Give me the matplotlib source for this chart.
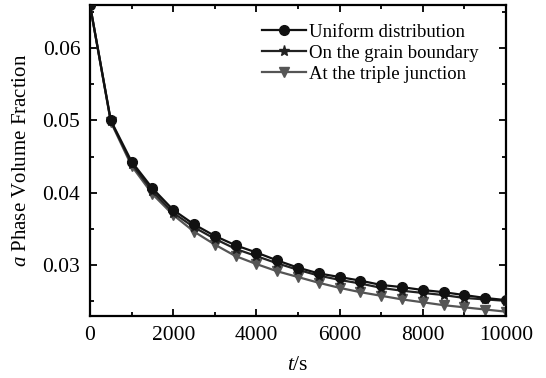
import numpy as np
import matplotlib.pyplot as plt

plt.rcParams['font.family'] = ['Liberation Serif', 'DejaVu Serif']
plt.rcParams['mathtext.fontset'] = 'custom'
plt.rcParams['mathtext.it'] = 'Liberation Serif:italic'
plt.rcParams['mathtext.rm'] = 'Liberation Serif'

t = np.arange(0, 10001, 500)

uniform = [0.066, 0.0500, 0.0443, 0.0406, 0.0376, 0.0356, 0.0340, 0.0327, 0.0317, 0.0306,
           0.0296, 0.0288, 0.0283, 0.0278, 0.0272, 0.0269, 0.0265, 0.0262, 0.0258, 0.0254, 0.0251]
boundary = [0.066, 0.0499, 0.0440, 0.0402, 0.0372, 0.0352, 0.0336, 0.0322, 0.0312, 0.0302,
            0.0293, 0.0285, 0.0279, 0.0274, 0.0268, 0.0264, 0.0261, 0.0258, 0.0254, 0.0252, 0.0250]
triple = [0.066, 0.0498, 0.0437, 0.0398, 0.0369, 0.0346, 0.0328, 0.0312, 0.0301, 0.0291,
          0.0283, 0.0275, 0.0268, 0.0262, 0.0257, 0.0252, 0.0248, 0.0244, 0.0241, 0.0238, 0.0235]

fig = plt.figure(figsize=(5.46, 3.78), dpi=100)
ax = fig.add_axes([90/546, 1 - 316/378, 416/546, 311/378])

ax.plot(t, uniform, '-o', color='#111111', lw=1.6, ms=7, label='Uniform distribution', zorder=4)
ax.plot(t, boundary, '-*', color='#222222', lw=1.6, ms=8, label='On the grain boundary', zorder=3)
ax.plot(t, triple, '-v', color='#555555', lw=1.6, ms=7, label='At the triple junction', zorder=2)

ax.set_xlim(0, 10000)
ax.set_ylim(0.0229, 0.066)
ax.set_xticks(np.arange(0, 10001, 2000))
ax.set_xticks(np.arange(0, 10001, 1000), minor=True)
ax.set_yticks([0.03, 0.04, 0.05, 0.06])
ax.set_yticks(np.arange(0.025, 0.066, 0.005), minor=True)
ax.set_yticklabels(['0.03', '0.04', '0.05', '0.06'])
ax.tick_params(which='both', direction='in', top=True, right=True, labelsize=15.5, width=1.3)
ax.tick_params(which='major', length=5, pad=7)
ax.tick_params(which='minor', length=3)
for s in ax.spines.values():
    s.set_linewidth(1.6)

ax.set_xlabel('$t$/s', fontsize=15.5, labelpad=8)
ax.set_ylabel('$a$ Phase Volume Fraction', fontsize=15, labelpad=8)

ax.legend(loc='upper right', frameon=False, fontsize=13.5, handlelength=2.3,
          handletextpad=0.2, labelspacing=0.2, borderaxespad=0.6,
          bbox_to_anchor=(0.98, 1.0))

fig.savefig('out.png', dpi=100)
